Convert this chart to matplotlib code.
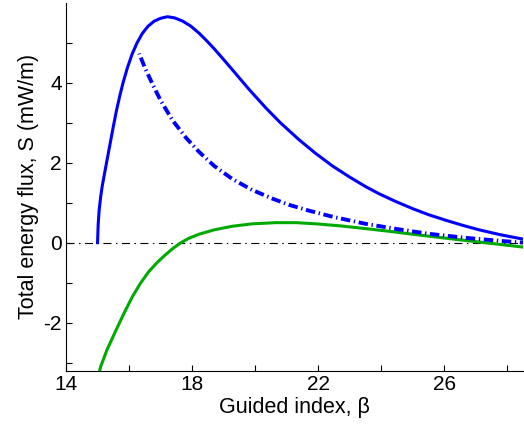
import matplotlib
matplotlib.use("Agg")
import matplotlib.pyplot as plt

plt.rcParams['font.family'] = ['Liberation Sans', 'DejaVu Sans']
plt.rcParams['axes.unicode_minus'] = False
plt.rcParams['lines.scale_dashes'] = False

# Blue solid curve
beta_blue = [15.0, 15.02, 15.05, 15.1, 15.15, 15.22, 15.3, 15.4, 15.5, 15.6, 15.7, 15.8,
             15.95, 16.1, 16.25, 16.42, 16.6, 16.8, 17.0, 17.22, 17.45, 17.7, 17.95, 18.22,
             18.45, 18.7, 19.0, 19.38, 19.8, 20.34, 20.8, 21.4, 21.9, 22.45, 23.0, 23.51,
             23.94, 24.46, 25.0, 25.5, 26.05, 26.6, 27.11, 27.8, 28.49]
S_blue = [0.0, 0.45, 0.8, 1.15, 1.42, 1.72, 2.06, 2.48, 2.9, 3.3, 3.65, 3.97,
          4.38, 4.72, 4.99, 5.23, 5.41, 5.54, 5.61, 5.65, 5.62, 5.54, 5.42, 5.24,
          5.06, 4.85, 4.58, 4.23, 3.84, 3.37, 3.00, 2.57, 2.245, 1.92, 1.64, 1.40,
          1.22, 1.03, 0.85, 0.70, 0.56, 0.43, 0.32, 0.195, 0.09]

# Blue dash-dot curve
beta_blue_dd = [16.32, 16.5, 16.74, 17.0, 17.37, 17.8, 18.22, 18.7, 19.28, 19.9, 20.55,
                21.1, 21.71, 22.5, 23.51, 24.5, 25.52, 26.69, 27.7, 28.5]
S_blue_dd = [4.73, 4.38, 3.97, 3.56, 3.07, 2.63, 2.27, 1.92, 1.59, 1.32, 1.1,
             0.94, 0.8, 0.64, 0.47, 0.34, 0.22, 0.12, 0.05, 0.0]

# Green curve
beta_green = [15.0, 15.1, 15.3, 15.58, 15.85, 16.1, 16.35, 16.63, 16.9, 17.16, 17.4,
              17.65, 17.9, 18.22, 18.7, 19.28, 19.9, 20.66, 21.3, 21.93, 22.7, 23.51,
              24.3, 25.1, 25.8, 26.5, 27.5, 28.49]
S_green = [-3.4, -3.1, -2.68, -2.2, -1.75, -1.36, -1.03, -0.72, -0.49, -0.30, -0.14,
           0.0, 0.11, 0.21, 0.32, 0.41, 0.47, 0.50, 0.50, 0.47, 0.42, 0.35,
           0.28, 0.2, 0.135, 0.07, -0.02, -0.11]

zero_x = [14, 28.5]
zero_y = [0, 0]

x_ticks = [14, 16, 18, 20, 22, 24, 26, 28]
x_ticklabels = ['14', '', '18', '', '22', '', '26', '']
y_ticks = [-3, -2, -1, 0, 1, 2, 3, 4, 5]
y_ticklabels = ['', '-2', '', '0', '', '2', '', '4', '']

fig = plt.figure(figsize=(5.24, 4.25), dpi=100)
ax = fig.add_axes([0.126, 0.128, 0.872, 0.8656])

ax.plot(zero_x, zero_y, color='black', lw=0.8, linestyle=(0, (5.8, 3.2, 1.1, 3.2)))
ax.plot(beta_green, S_green, color='#00aa00', lw=2.2)
ax.plot(beta_blue_dd, S_blue_dd, color='#0000ff', lw=2.8, linestyle=(9.8, (6.8, 2.6, 1.0, 2.6)))
ax.plot(beta_blue, S_blue, color='#0000ff', lw=2.2)

ax.set_xlim(14, 28.5)
ax.set_ylim(-3.2, 6)
ax.set_xticks(x_ticks)
ax.set_xticklabels(x_ticklabels)
ax.set_yticks(y_ticks)
ax.set_yticklabels(y_ticklabels)
ax.tick_params(direction='in', length=4, width=0.8, labelsize=15, pad=3)
ax.spines['top'].set_visible(False)
ax.spines['right'].set_visible(False)
ax.set_xlabel('Guided index, β', fontsize=15.5, labelpad=2)
ax.set_ylabel('Total energy flux, S (mW/m)', fontsize=15.5, labelpad=3)

fig.savefig('out.png', dpi=100)
